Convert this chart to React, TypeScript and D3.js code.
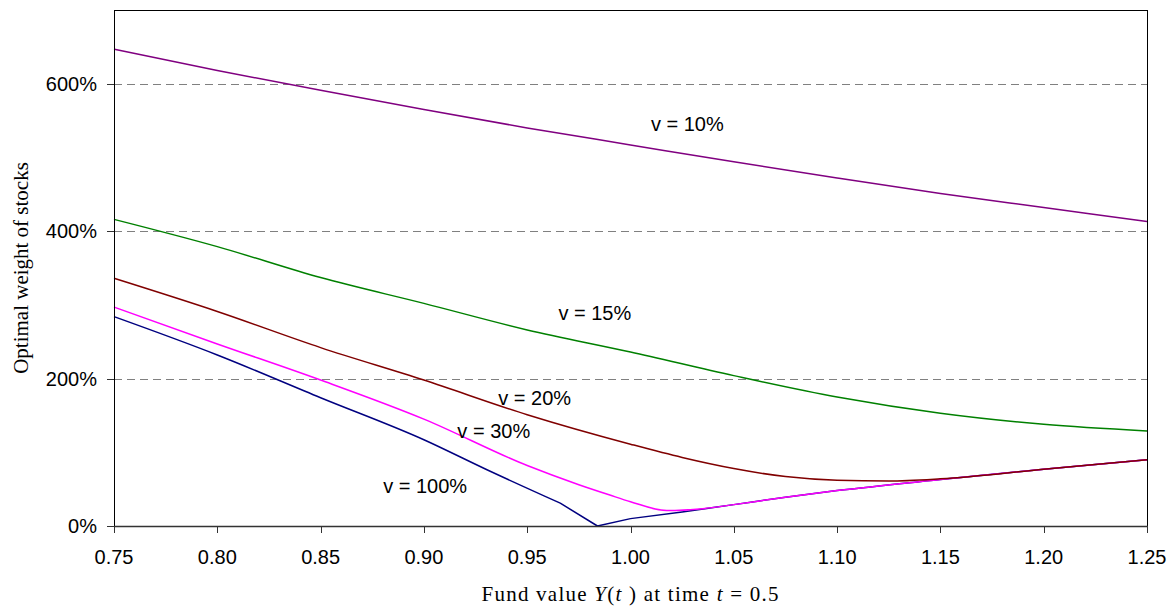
import React from "react";
import * as d3 from "d3";

const xTicks = [0.75, 0.8, 0.85, 0.9, 0.95, 1.0, 1.05, 1.1, 1.15, 1.2, 1.25];
const yTicks = [0, 200, 400, 600];

const v10X = [0.75, 0.8, 0.85, 0.9, 0.95, 1.0, 1.05, 1.1, 1.15, 1.2, 1.25];
const v10Y = [647, 618, 591, 565, 540, 517, 494, 472, 451, 432, 413];

const v15X = [0.75, 0.8, 0.85, 0.9, 0.95, 1.0, 1.05, 1.1, 1.15, 1.2, 1.25];
const v15Y = [416, 379, 337, 302, 266, 236, 204, 175, 153, 138, 129];

const v20X = [0.75, 0.8, 0.85, 0.9, 0.95, 1.0, 1.025, 1.05, 1.075, 1.1, 1.125, 1.15, 1.2, 1.25];
const v20Y = [336, 291, 242, 198, 151, 111, 93, 78, 67, 62, 61, 64, 77, 90];

const v30X = [0.75, 0.8, 0.85, 0.9, 0.95, 0.975, 0.99, 1.0, 1.0175, 1.035, 1.05, 1.075, 1.1, 1.15, 1.2, 1.25];
const v30Y = [297, 247, 198, 145, 82, 56, 42, 33, 21, 23.5, 29, 39, 48, 63, 77, 90];

const v100X = [0.75, 0.8, 0.85, 0.9, 0.93, 0.966, 0.984, 1.0, 1.025, 1.05, 1.075, 1.1, 1.15, 1.2, 1.25];
const v100Y = [284, 232, 174, 117, 77, 31, 0, 10, 19, 29, 39, 48, 63, 77, 90];

const seriesNames = ["v = 100%", "v = 30%", "v = 20%", "v = 15%", "v = 10%"];
const seriesColors = ["#000080", "#FF00FF", "#800000", "#008000", "#800080"];
const seriesXs = [v100X, v30X, v20X, v15X, v10X];
const seriesYs = [v100Y, v30Y, v20Y, v15Y, v10Y];
// series with a sharp kink at their minimum are drawn in two smooth pieces
const seriesKinked = [true, false, false, false, false];
// label anchor positions in data coordinates (x, y%)
const labelX = [0.8803, 0.9162, 0.936, 0.9651, 1.0099];
const labelY = [45, 119, 164, 280, 536];

const W = 1172;
const H = 609;
const left = 114;
const right = 1147;
const top = 10;
const bottom = 526;

const sans = "'Liberation Sans', Arial, Helvetica, sans-serif";
const serif = "'Liberation Serif', 'Times New Roman', Times, serif";

export default function App() {
  const x = d3.scaleLinear().domain([0.75, 1.25]).range([left, right]);
  const y = d3.scaleLinear().domain([0, 700]).range([bottom, top]);

  const smoothLine = d3
    .line<[number, number]>()
    .x((d) => x(d[0]))
    .y((d) => y(d[1]))
    .curve(d3.curveMonotoneX);
  const straightLine = d3
    .line<[number, number]>()
    .x((d) => x(d[0]))
    .y((d) => y(d[1]))
    .curve(d3.curveLinear);

  const pathFor = (i: number) => {
    const pts = seriesXs[i].map((v, j) => [v, seriesYs[i][j]] as [number, number]);
    if (!seriesKinked[i]) return smoothLine(pts) || "";
    const k = d3.minIndex(pts, (p) => p[1]);
    const a = pts.slice(0, k);
    const b = pts.slice(k + 1);
    // descending part smooth, straight segments around the kink, ascending part smooth
    return (
      (smoothLine(a) || "") +
      (straightLine([a[a.length - 1], pts[k], b[0]]) || "") +
      (smoothLine(b) || "")
    );
  };

  return (
    <svg
      width={W}
      height={H}
      style={{ position: "absolute", left: 0, top: 0, background: "#fff" }}
    >
      <rect x={0} y={0} width={W} height={H} fill="#fff" />
      {yTicks
        .filter((t) => t > 0)
        .map((t) => (
          <line
            key={"g" + t}
            x1={left}
            x2={right}
            y1={Math.round(y(t)) + 0.5}
            y2={Math.round(y(t)) + 0.5}
            stroke="#808080"
            strokeWidth={1}
            strokeDasharray="8,5"
          />
        ))}
      {seriesXs.map((_, i) => (
        <path
          key={"s" + i}
          d={pathFor(i)}
          fill="none"
          stroke={seriesColors[i]}
          strokeWidth={1.5}
          strokeLinejoin="round"
        />
      ))}
      <line x1={left + 0.5} x2={right + 0.5} y1={top + 0.5} y2={top + 0.5} stroke="#000" />
      <line x1={right + 0.5} x2={right + 0.5} y1={top} y2={bottom + 0.5} stroke="#000" />
      <line x1={left + 0.5} x2={left + 0.5} y1={top} y2={bottom + 0.5} stroke="#000" />
      <line x1={left} x2={right + 1} y1={bottom + 0.5} y2={bottom + 0.5} stroke="#333" strokeWidth={1.5} />
      {yTicks.map((t) => (
        <g key={"yt" + t}>
          <line
            x1={left - 7}
            x2={left}
            y1={Math.round(y(t)) + 0.5}
            y2={Math.round(y(t)) + 0.5}
            stroke="#333"
          />
          <text
            x={97}
            y={y(t)}
            dy="0.36em"
            textAnchor="end"
            fontFamily={sans}
            fontSize={20}
            fill="#000"
          >
            {t + "%"}
          </text>
        </g>
      ))}
      {xTicks.map((t) => (
        <g key={"xt" + t}>
          <line
            x1={Math.round(x(t)) + 0.5}
            x2={Math.round(x(t)) + 0.5}
            y1={bottom}
            y2={bottom + 7}
            stroke="#333"
          />
          <text
            x={x(t)}
            y={564}
            textAnchor="middle"
            fontFamily={sans}
            fontSize={20}
            fill="#000"
          >
            {d3.format(".2f")(t)}
          </text>
        </g>
      ))}
      {seriesNames.map((n, i) => (
        <text
          key={"l" + i}
          x={x(labelX[i])}
          y={y(labelY[i])}
          fontFamily={sans}
          fontSize={20}
          fill="#000"
        >
          {n}
        </text>
      ))}
      <text
        x={630}
        y={601}
        textAnchor="middle"
        fontFamily={serif}
        fontSize={21}
        fill="#000"
        textLength={297}
        lengthAdjust="spacing"
      >
        Fund value <tspan fontStyle="italic">Y</tspan>(<tspan fontStyle="italic">t</tspan> ) at time{" "}
        <tspan fontStyle="italic">t</tspan> = 0.5
      </text>
      <text
        transform="translate(28,268) rotate(-90)"
        textAnchor="middle"
        fontFamily={serif}
        fontSize={21}
        fill="#000"
      >
        Optimal weight of stocks
      </text>
    </svg>
  );
}
